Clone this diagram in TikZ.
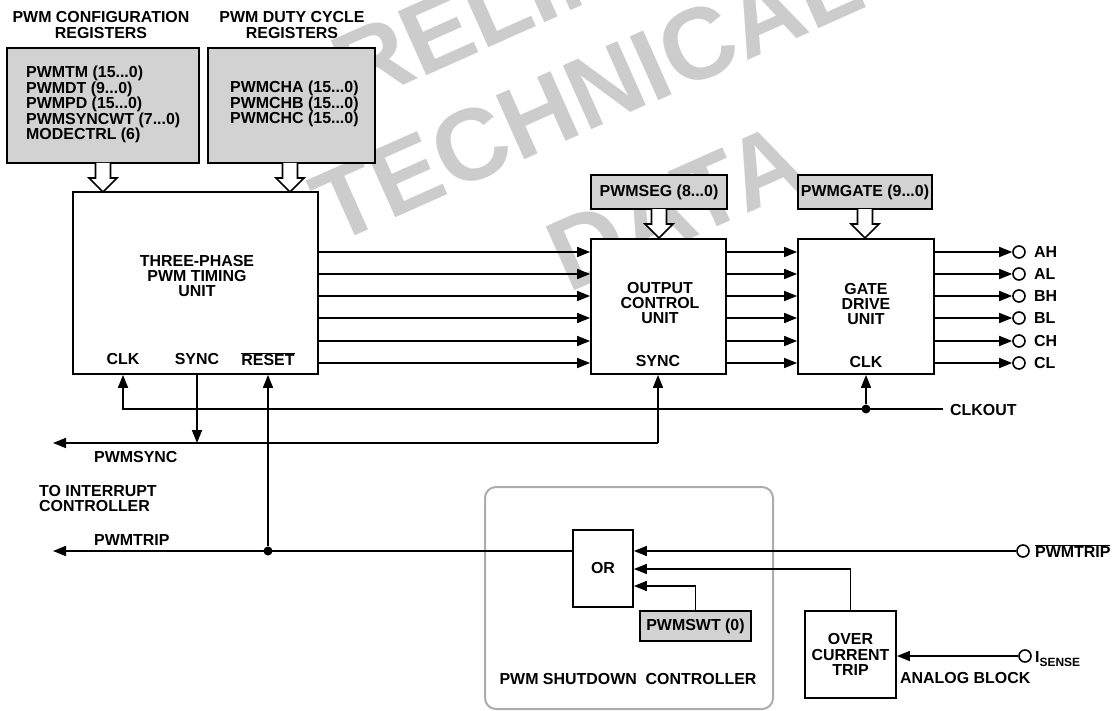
\documentclass[tikz,border=0pt]{standalone}
\usepackage{fontspec}
\setmainfont{Liberation Sans}
\usetikzlibrary{arrows.meta}
\tikzset{
  txt/.style={font=\bfseries\fontsize{16}{15.5}\selectfont, align=center},
  lbl/.style={txt, inner sep=0pt},
  box/.style={draw, line width=1.8bp, fill=white, inner sep=0pt},
  regbox/.style={box, fill=gray!35},
  sig/.style={line width=1.6bp, -{Triangle[length=13bp,width=10bp]}},
  term/.style={circle, draw, line width=1.6bp, fill=white, minimum size=12bp, inner sep=0pt},
  joint/.style={circle, fill, minimum size=9bp, inner sep=0pt},
  wm/.style={text=gray!40, font=\bfseries\fontsize{102}{102}\selectfont, rotate=24, inner sep=0pt},
  busarrow/.pic={\draw[line width=1.6bp, fill=white] (-7.5,0) -- (-7.5,15) -- (-14,15) -- (0,29) -- (14,15) -- (7.5,15) -- (7.5,0);}
}
\begin{document}
\begin{tikzpicture}[x=1bp, y=-1bp]
        \useasboundingbox (0,0) rectangle (1112,711);
        \begin{scope}
        \clip (0,0) rectangle (1112,711);
        \node[wm] (wm1) at (595,-38) {PRELIMINARY};
        \node[wm] (wm2) at (587,94) {TECHNICAL};
        \node[wm] (wm3) at (676,207) {DATA};
        \end{scope}
        \node[lbl] (cfgtitle) at (101,25) {PWM CONFIGURATION\\REGISTERS};
        \node[lbl] (dutytitle) at (292,25) {PWM DUTY CYCLE\\REGISTERS};
        \node[regbox, minimum width=192bp, minimum height=115bp] (cfg) at (103,105.5) {};
        \node[lbl, align=left, anchor=west] (cfgtxt) at (26,104.5)
          {PWMTM (15...0)\\PWMDT (9...0)\\PWMPD (15...0)\\PWMSYNCWT (7...0)\\MODECTRL (6)};
        \node[regbox, minimum width=167bp, minimum height=115bp] (duty) at (291.5,105.5) {};
        \node[lbl, align=left, anchor=west] (dutytxt) at (230,104)
          {PWMCHA (15...0)\\PWMCHB (15...0)\\PWMCHC (15...0)};
        \pic at (103,163) {busarrow};
        \pic at (290,163) {busarrow};
        \node[box, minimum width=245bp, minimum height=182bp] (tpu) at (195.5,283) {};
        \node[lbl] (tputxt) at (197,276) {THREE-PHASE\\PWM TIMING\\UNIT};
        \node[lbl] (tclk) at (123,359) {CLK};
        \node[lbl] (tsync) at (197,359) {SYNC};
        \node[lbl] (treset) at (268,359) {$\overline{\hbox{RESET}}$};
        \node[regbox, txt, minimum width=136bp, minimum height=34bp] (seg) at (659,192) {PWMSEG (8...0)};
        \pic at (659,209) {busarrow};
        \node[box, minimum width=135bp, minimum height=135bp] (ocu) at (658.5,306.5) {};
        \node[lbl] (ocutxt) at (660,303) {OUTPUT\\CONTROL\\UNIT};
        \node[lbl] (osync) at (658,361) {SYNC};
        \node[regbox, txt, minimum width=134bp, minimum height=34bp] (gate) at (865,192) {PWMGATE (9...0)};
        \pic at (865,209) {busarrow};
        \node[box, minimum width=136bp, minimum height=135bp] (gdu) at (866,306.5) {};
        \node[lbl] (gdutxt) at (866,304) {GATE\\DRIVE\\UNIT};
        \node[lbl] (gclk) at (866,362) {CLK};
        \foreach \y in {252,274,296,318,341,363} {
        \draw[sig] (tpu.east |- 0,\y) -- (ocu.west |- 0,\y);
        \draw[sig] (ocu.east |- 0,\y) -- (gdu.west |- 0,\y);
        }
        \foreach \y/\s [count=\i] in {252/AH,274/AL,296/BH,318/BL,341/CH,363/CL} {
        \node[term] (out\i) at (1019,\y) {};
        \node[lbl, anchor=west] (outlbl\i) at (1034,\y) {\s};
        \draw[sig] (gdu.east |- 0,\y) -- (out\i);
        }
        \node[joint] (clkdot) at (866,409) {};
        \coordinate (clkend) at (943,409);
        \node[lbl, anchor=west] (clkout) at (950,410) {CLKOUT};
        \draw[sig] (clkend) -- (tclk |- clkend) -- (tpu.south -| tclk);
        \draw[sig] (clkdot) -- (gdu.south -| clkdot);
        \coordinate (syncend) at (53,443);
        \draw[sig] (tpu.south -| tsync) -- (tsync |- syncend);
        \draw[sig] (osync |- syncend) -- (ocu.south -| osync);
        \draw[sig] (osync |- syncend) -- (syncend);
        \node[lbl, anchor=west] (pwmsync) at (94,457) {PWMSYNC};
        \node[lbl, anchor=west, align=left] (intc) at (39,498.5) {TO INTERRUPT\\CONTROLLER};
        \node[lbl, anchor=west] (pwmtrip) at (94,540) {PWMTRIP};
        \node[draw=gray!65, line width=2bp, rounded corners=11bp, minimum width=288bp, minimum height=222bp] (sdc) at (629,598) {};
        \node[lbl] (sdctxt) at (628,679) {PWM SHUTDOWN\ \ CONTROLLER};
        \node[box, txt, minimum width=60bp, minimum height=77bp] (or) at (603,568.5) {OR};
        \node[regbox, txt, minimum width=111bp, minimum height=30bp] (swt) at (695.5,626) {PWMSWT (0)};
        \node[box, txt, minimum width=91bp, minimum height=87bp] (oct) at (850.5,654.5) {OVER\\CURRENT\\TRIP};
        \node[term] (tripin) at (1023,551) {};
        \node[lbl, anchor=west] (triplbl) at (1035,551) {$\overline{\hbox{PWMTRIP}}$};
        \draw[sig] (tripin) -- (or.east |- tripin);
        \draw[sig] (oct.north) -- (oct.north |- 0,569) -- (or.east |- 0,569);
        \draw[sig] (swt.north) -- (swt.north |- 0,586) -- (or.east |- 0,586);
        \node[term] (isense) at (1025,656) {};
        \node[lbl, anchor=west] (isenselbl) at (1035,659) {I\raisebox{-4bp}{\fontsize{12}{12}\selectfont SENSE}};
        \draw[sig] (isense) -- (oct.east |- isense);
        \node[lbl, anchor=west] (analog) at (900,678) {ANALOG BLOCK};
        \node[joint] (tripdot) at (268,551) {};
        \coordinate (tripend) at (53,551);
        \draw[sig] (or.west |- tripdot) -- (tripend);
        \draw[sig] (tripdot) -- (tpu.south -| tripdot);
        \end{tikzpicture}
\end{document}
